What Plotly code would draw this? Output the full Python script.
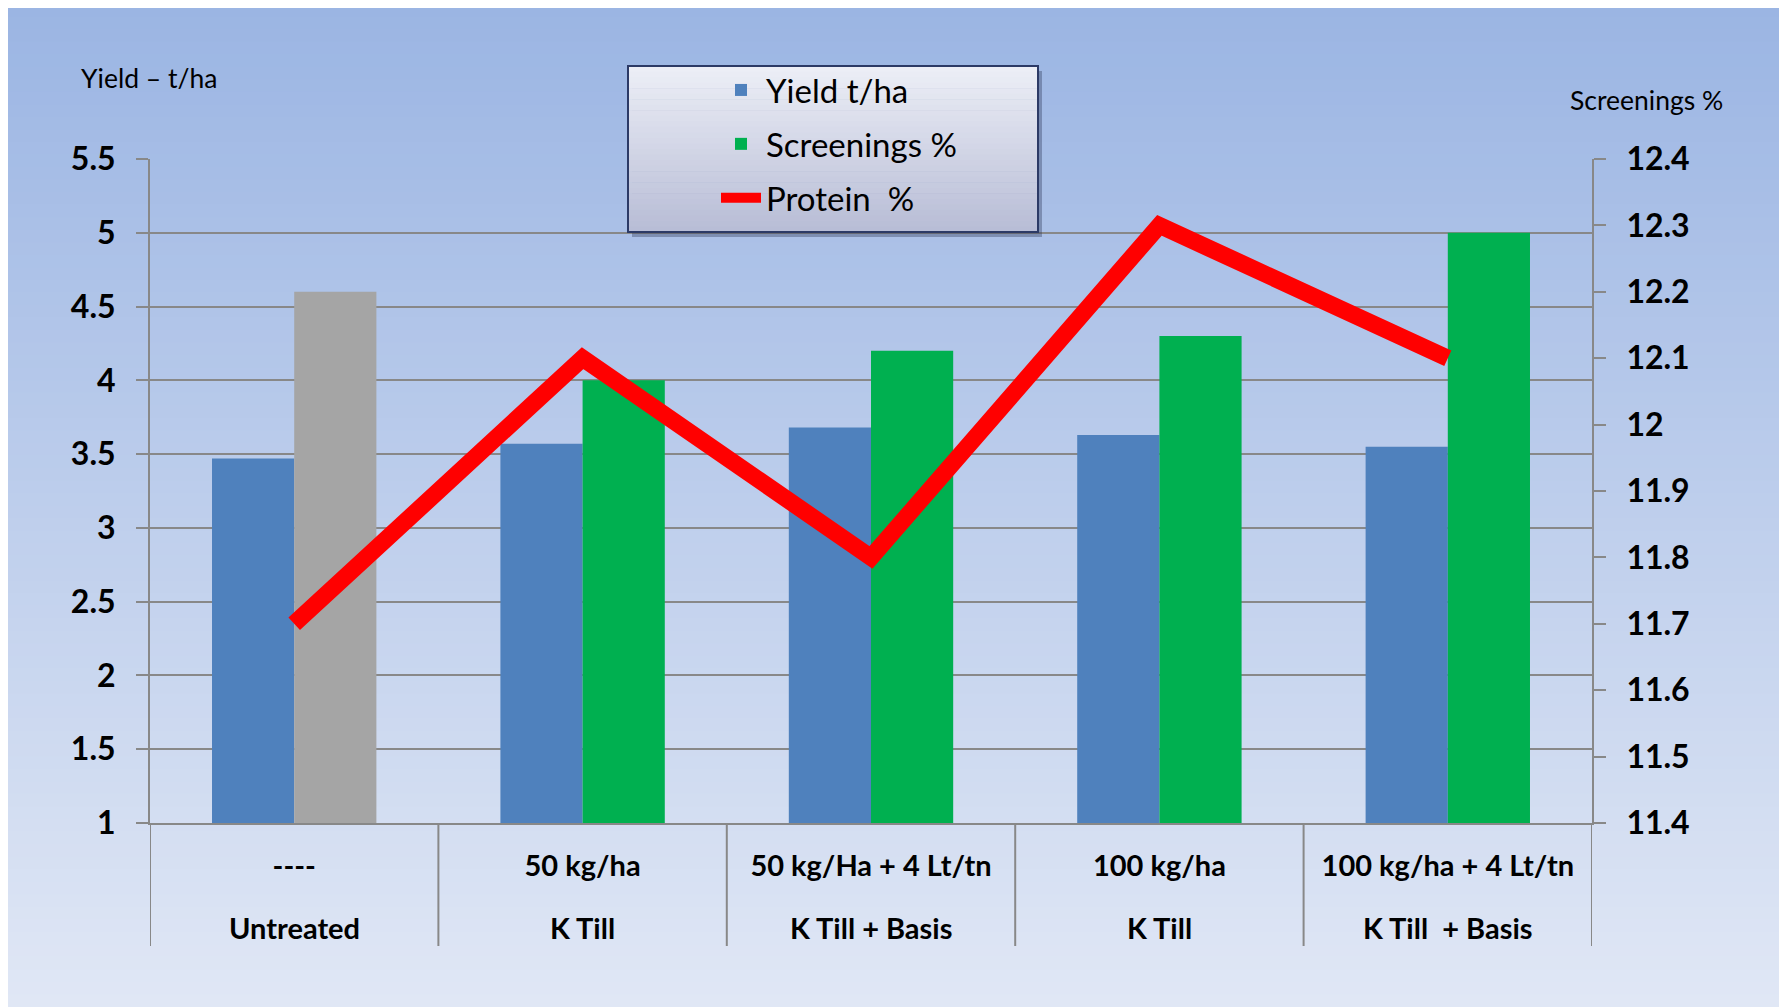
import plotly.graph_objects as go

# ---------------- data ----------------
treatments = ["----", "50 kg/ha", "50 kg/Ha + 4 Lt/tn", "100 kg/ha", "100 kg/ha + 4 Lt/tn"]
products = ["Untreated", "K Till", "K Till + Basis", "K Till", "K Till  + Basis"]
yield_t_ha = [3.47, 3.57, 3.68, 3.63, 3.55]
screenings_pct = [4.6, 4.0, 4.2, 4.3, 5.0]
protein_pct = [11.7, 12.1, 11.8, 12.3, 12.1]

# page is rendered with the browser's default 8px body margin
OFF = 8
PAGE_W, PAGE_H = 1787, 1007
W, H = PAGE_W - OFF, PAGE_H - OFF
# plot area in page pixels: x 150..1592, y 159..823
ML, MT = 150 - OFF, 159 - OFF
MR, MB = W - (1592 - OFF), H - (823 - OFF)
PW, PH = W - ML - MR, H - MT - MB
FONT = "Lato"


def px_x(px):
    return (px - OFF - ML) / PW


def px_y(py):
    return (H - MB - (py - OFF)) / PH


def lerp(c0, c1, t):
    return "rgb(%d,%d,%d)" % tuple(round(a + (b - a) * t) for a, b in zip(c0, c1))


fig = go.Figure()

fig.add_trace(go.Bar(
    x=treatments, y=yield_t_ha, name="Yield t/ha",
    marker=dict(color="#4f81bd", line=dict(width=0)),
    offsetgroup="yield", legendgroup="g1", legendrank=1,
))
fig.add_trace(go.Bar(
    x=treatments[1:], y=screenings_pct[1:], name="Screenings %",
    marker=dict(color="#00b050", line=dict(width=0)),
    offsetgroup="scr", legendgroup="g2", legendrank=2,
))
fig.add_trace(go.Bar(
    x=treatments[:1], y=screenings_pct[:1], name="Screenings % (untreated)",
    marker=dict(color="#a5a5a5", line=dict(width=0)),
    offsetgroup="scr", showlegend=False,
))
fig.add_trace(go.Scatter(
    x=treatments, y=protein_pct, name="Protein  %", mode="lines",
    line=dict(color="#ff0000", width=17), yaxis="y2",
    legendgroup="g3", legendrank=3,
))

shapes = []
# background gradient panel
top_c, bot_c = (155, 181, 227), (224, 231, 245)
n = 80
y_top, y_bot = 4, PAGE_H
for i in range(n):
    ya = y_top + (y_bot - y_top) * i / n
    yb = y_top + (y_bot - y_top) * (i + 1) / n + 1
    shapes.append(dict(type="rect", xref="paper", yref="paper",
                       x0=px_x(0), x1=px_x(1781), y0=px_y(ya), y1=px_y(yb),
                       fillcolor=lerp(top_c, bot_c, i / (n - 1)), line=dict(width=0),
                       layer="below"))
# right wheat strip
shapes.append(dict(type="rect", xref="paper", yref="paper", x0=px_x(1781), x1=px_x(PAGE_W),
                   y0=px_y(350), y1=px_y(PAGE_H), fillcolor="#dc9f45", line=dict(width=0),
                   layer="below"))

# category divider ticks below the x axis
for i in range(len(treatments) + 1):
    shapes.append(dict(type="line", xref="x", yref="paper", x0=i - 0.5, x1=i - 0.5,
                       y0=0, y1=px_y(946), line=dict(color="#888888", width=2)))

# legend box (shadow, gradient, border)
bx0, bx1, by0, by1 = 628, 1038, 66, 232
shapes.append(dict(type="rect", xref="paper", yref="paper", x0=px_x(bx0 + 4), x1=px_x(bx1 + 4),
                   y0=px_y(by0 + 5), y1=px_y(by1 + 5), fillcolor="rgba(40,50,80,0.35)",
                   line=dict(width=0), layer="above"))
lt, lb = (236, 238, 246), (184, 189, 214)
m = 30
for i in range(m):
    ya = by0 + (by1 - by0) * i / m
    yb = by0 + (by1 - by0) * (i + 1) / m + 0.6
    shapes.append(dict(type="rect", xref="paper", yref="paper", x0=px_x(bx0), x1=px_x(bx1),
                       y0=px_y(ya), y1=px_y(yb), fillcolor=lerp(lt, lb, i / (m - 1)),
                       line=dict(width=0), layer="above"))
shapes.append(dict(type="rect", xref="paper", yref="paper", x0=px_x(bx0), x1=px_x(bx1),
                   y0=px_y(by0), y1=px_y(by1), fillcolor="rgba(0,0,0,0)",
                   line=dict(color="#2c3a66", width=2), layer="above"))

annotations = [
    dict(text="Yield – t/ha", xref="paper", yref="paper", x=px_x(149), y=px_y(78),
         showarrow=False, xanchor="center", yanchor="middle",
         font=dict(family=FONT, size=26.5, color="#000000")),
    dict(text="Screenings %", xref="paper", yref="paper", x=px_x(1646), y=px_y(100),
         showarrow=False, xanchor="center", yanchor="middle",
         font=dict(family=FONT, size=26.5, color="#000000")),
]
for t, p in zip(treatments, products):
    annotations.append(dict(text=p, xref="x", yref="paper", x=t, y=px_y(927),
                            showarrow=False, xanchor="center", yanchor="middle",
                            font=dict(family=FONT, size=29, color="#000000", weight="bold")))

fig.update_layout(
    width=W, height=H,
    margin=dict(l=ML, r=MR, t=MT, b=MB, autoexpand=False),
    paper_bgcolor="#ffffff",
    plot_bgcolor="rgba(0,0,0,0)",
    barmode="group", bargap=0.43, bargroupgap=0,
    shapes=shapes, annotations=annotations,
    showlegend=True,
    legend=dict(x=px_x(716), y=px_y(62), xanchor="left", yanchor="top",
                bgcolor="rgba(0,0,0,0)", borderwidth=0,
                font=dict(family=FONT, size=33, color="#000000"),
                tracegroupgap=8, traceorder="grouped", itemwidth=40),
    xaxis=dict(type="category", categoryorder="array", categoryarray=treatments,
               range=[-0.5, len(treatments) - 0.5],
               showline=True, linecolor="#888888", linewidth=2,
               ticks="", showgrid=False, ticklabelstandoff=16,
               tickfont=dict(family=FONT, size=29, color="#000000", weight="bold")),
    yaxis=dict(range=[1, 5.5], dtick=0.5, tick0=1,
               showline=True, linecolor="#888888", linewidth=2,
               ticks="outside", ticklen=12, tickwidth=2, tickcolor="#888888",
               showgrid=True, gridcolor="#888888", gridwidth=2, zeroline=False,
               ticklabelstandoff=14,
               tickfont=dict(family=FONT, size=32, color="#000000", weight="bold")),
    yaxis2=dict(range=[11.4, 12.4], dtick=0.1, tick0=11.4, overlaying="y", side="right",
                showline=True, linecolor="#888888", linewidth=2,
                ticks="outside", ticklen=12, tickwidth=2, tickcolor="#888888",
                showgrid=False, zeroline=False, ticklabelstandoff=14,
                tickfont=dict(family=FONT, size=32, color="#000000", weight="bold")),
)

fig.write_html("out.html")
